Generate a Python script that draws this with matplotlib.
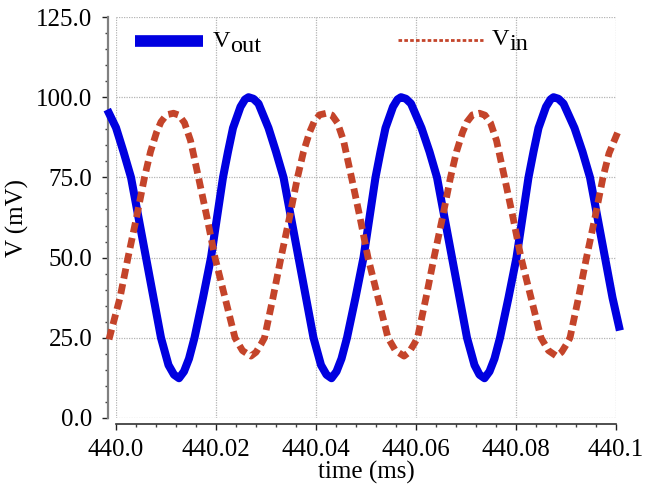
import matplotlib
matplotlib.use("Agg")
import matplotlib.pyplot as plt
from matplotlib.lines import Line2D
from matplotlib.ticker import AutoMinorLocator

plt.rcParams.update({
    "font.family": "Liberation Serif",
    "font.size": 18,
})

# Vout (blue)
t_out = [439.9986, 440.0000, 440.0015, 440.0030, 440.0045, 440.0060, 440.0075, 440.0090, 440.0105, 440.0116, 440.0126,
         440.0136, 440.0146, 440.0157, 440.0174, 440.0190, 440.0202, 440.0214, 440.0224, 440.0234, 440.0249, 440.0258, 440.0265,
         440.0275, 440.0285, 440.0305, 440.0320, 440.0335, 440.0350, 440.0365, 440.0380, 440.0395, 440.0410, 440.0421, 440.0431,
         440.0441, 440.0451, 440.0462, 440.0479, 440.0495, 440.0507, 440.0519, 440.0529, 440.0539, 440.0554, 440.0563, 440.0570,
         440.0580, 440.0590, 440.0611, 440.0627, 440.0642, 440.0657, 440.0672, 440.0687, 440.0702, 440.0717, 440.0727, 440.0737,
         440.0747, 440.0757, 440.0768, 440.0785, 440.0801, 440.0813, 440.0825, 440.0835, 440.0845, 440.0860, 440.0869, 440.0875,
         440.0885, 440.0895, 440.0917, 440.0933, 440.0948, 440.0963, 440.0978, 440.0993, 440.1006]
v_out = [95.0, 90.5, 83.0, 75.0, 62.5, 50.0, 37.5, 25.0, 16.5, 13.5, 12.4,
         14.5, 18.5, 25.0, 37.5, 50.0, 62.5, 75.0, 83.0, 90.4, 97.0, 99.3, 100.0,
         99.5, 98.0, 90.4, 83.0, 75.0, 62.5, 50.0, 37.5, 25.0, 16.5, 13.5, 12.4,
         14.5, 18.5, 25.0, 37.5, 50.0, 62.5, 75.0, 83.0, 90.4, 97.0, 99.3, 100.0,
         99.5, 98.0, 90.4, 83.0, 75.0, 62.5, 50.0, 37.5, 25.0, 16.5, 13.5, 12.4,
         14.5, 18.5, 25.0, 37.5, 50.0, 62.5, 75.0, 83.0, 90.4, 97.0, 99.3, 100.0,
         99.5, 98.0, 90.4, 83.0, 75.0, 62.5, 50.0, 37.5, 28.5]

# Vin (red dashed)
t_in = [439.9986, 440.0008, 440.0024, 440.0041, 440.0057, 440.0069, 440.0081, 440.0090, 440.0101, 440.0115,
        440.0126, 440.0137, 440.0149, 440.0165, 440.0182, 440.0198, 440.0218, 440.0238, 440.0253, 440.0270,
        440.0280, 440.0290, 440.0297, 440.0314, 440.0330, 440.0347, 440.0363, 440.0375, 440.0387, 440.0396, 440.0407, 440.0421,
        440.0432, 440.0443, 440.0455, 440.0471, 440.0488, 440.0504, 440.0524, 440.0544, 440.0559, 440.0576,
        440.0586, 440.0596, 440.0603, 440.0620, 440.0636, 440.0653, 440.0669, 440.0681, 440.0693, 440.0702, 440.0713, 440.0727,
        440.0738, 440.0749, 440.0761, 440.0777, 440.0794, 440.0810, 440.0830, 440.0850, 440.0865, 440.0881,
        440.0891, 440.0901, 440.0908, 440.0925, 440.0941, 440.0958, 440.0974, 440.0986, 440.1006]
v_in = [24.5, 37.5, 50.0, 62.5, 75.0, 83.0, 89.0, 92.3, 94.5, 95.0,
        94.4, 92.0, 86.5, 75.0, 62.5, 50.0, 37.5, 25.0, 21.0, 19.3,
        20.5, 23.0, 25.0, 37.5, 50.0, 62.5, 75.0, 83.0, 89.0, 92.3, 94.5, 95.0,
        94.4, 92.0, 86.5, 75.0, 62.5, 50.0, 37.5, 25.0, 21.0, 19.3,
        20.5, 23.0, 25.0, 37.5, 50.0, 62.5, 75.0, 83.0, 89.0, 92.3, 94.5, 95.0,
        94.4, 92.0, 86.5, 75.0, 62.5, 50.0, 37.5, 25.0, 21.0, 19.3,
        20.5, 23.0, 25.0, 37.5, 50.0, 62.5, 75.0, 82.5, 90.0]

xticks = [440.0, 440.02, 440.04, 440.06, 440.08, 440.1]
xtick_labels = ["440.0", "440.02", "440.04", "440.06", "440.08", "440.1"]
yticks = [0, 25, 50, 75, 100, 125]

blue = "#0000E0"
red = "#C4442A"

fig = plt.figure(figsize=(6.46, 4.86), dpi=100)
ax = fig.add_axes([116/646, 1 - 418/486, 500/646, 401/486])

ax.plot(t_out, v_out, color=blue, lw=5.8, solid_joinstyle="round", clip_on=False, zorder=3)
ax.plot(t_in, v_in, color=red, lw=4.9, linestyle=(0, (1.5, 0.8)), clip_on=False, zorder=4)

ax.set_xlim(440.0, 440.1)
ax.set_ylim(0, 125)
ax.set_xticks(xticks)
ax.set_xticklabels(xtick_labels)
ax.set_yticks(yticks)
ax.set_yticklabels(["%.1f" % y for y in yticks])
ax.xaxis.set_minor_locator(AutoMinorLocator(5))
ax.yaxis.set_minor_locator(AutoMinorLocator(5))

ax.grid(True, which="major", color="#b4b4b4", linestyle=(0, (1, 1)), lw=0.9, zorder=0)
for s in ["top", "right"]:
    ax.spines[s].set_visible(False)
ax.spines["left"].set_position(("outward", 6))
ax.spines["bottom"].set_position(("outward", 4))
ax.spines["left"].set_color("#808080")
ax.spines["left"].set_linewidth(1.6)
ax.spines["bottom"].set_color("#303030")
ax.spines["bottom"].set_linewidth(1.2)

ax.tick_params(which="major", length=4, width=1, color="#202020", pad=7)
ax.tick_params(which="minor", length=2.5, width=1, color="#404040")

ax.set_xlabel("time (ms)", labelpad=0)
ax.set_ylabel("V (mV)", labelpad=5)

# legend drawn by hand: subscripts are full size, only lowered
tr = ax.transAxes
ax.add_line(Line2D([0.038, 0.174], [0.940, 0.940], transform=tr, color=blue, lw=8.4,
                   solid_capstyle="butt", clip_on=False))
v1 = ax.text(0.194, 0.925, "V", transform=tr, fontsize=17.5, va="baseline")
ax.annotate("out", xy=(1, 0), xycoords=v1, xytext=(0, -3.5), textcoords="offset points",
            fontsize=17.5, va="bottom", ha="left")
ax.add_line(Line2D([0.564, 0.734], [0.9426, 0.9426], transform=tr, color=red, lw=2,
                   linestyle=(0, (1.3, 0.8)), clip_on=False))
v2 = ax.text(0.752, 0.930, "V", transform=tr, fontsize=17.5, va="baseline")
ax.annotate("in", xy=(1, 0), xycoords=v2, xytext=(0, -3.5), textcoords="offset points",
            fontsize=17.5, va="bottom", ha="left")

plt.savefig("out.png", dpi=100)
